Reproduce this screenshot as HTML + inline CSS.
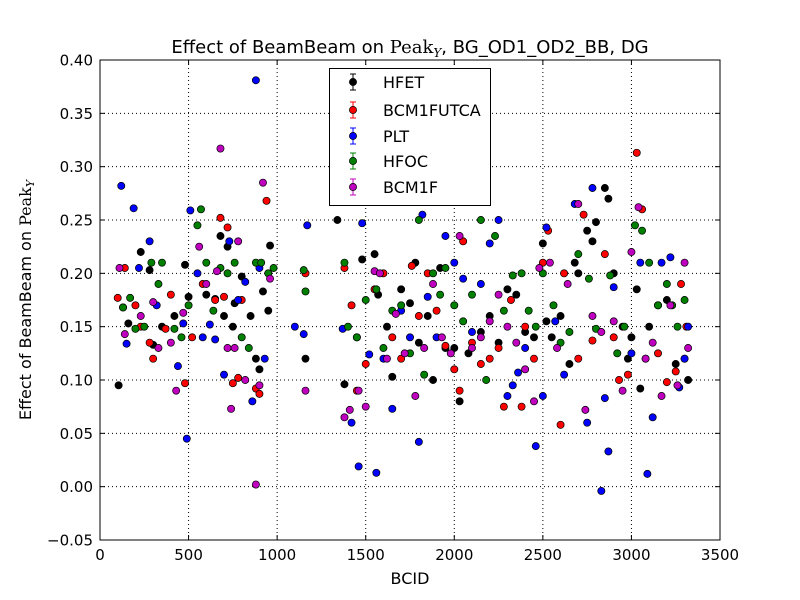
<!DOCTYPE html>
<html><head><meta charset="utf-8"><style>
body{margin:0;background:#fff;}
svg{display:block;font-family:"DejaVu Sans","Liberation Sans",sans-serif;}
</style></head><body>
<svg id="chart" width="800" height="600" xmlns="http://www.w3.org/2000/svg">
<rect width="800" height="600" fill="#fff"/>
<g id="grid"></g>
<g id="axes"></g>
<g id="marks"></g>
<rect x="100" y="60" width="620" height="480" fill="none" stroke="#000" stroke-width="1"/>
<text x="410" y="53" text-anchor="middle" font-size="18">Effect of BeamBeam on <tspan font-family="'DejaVu Serif','Liberation Serif',serif">Peak<tspan font-size="12" dy="4" font-style="italic">Y</tspan></tspan><tspan dy="-4">, BG_OD1_OD2_BB, DG</tspan></text>
<text x="410" y="584" text-anchor="middle" font-size="16">BCID</text>
<text transform="translate(31,300) rotate(-90)" text-anchor="middle" font-size="16">Effect of BeamBeam on <tspan font-family="'DejaVu Serif','Liberation Serif',serif">Peak<tspan font-size="11" dy="3" font-style="italic">Y</tspan></tspan></text>
<g id="legend">
<rect x="329.5" y="68.5" width="161" height="137" fill="#fff" stroke="#000"/>
</g>
</svg>
<script>
const xTicks=[0,500,1000,1500,2000,2500,3000,3500];
const yTicks=[-0.05,0,0.05,0.1,0.15,0.2,0.25,0.3,0.35,0.4];
const seriesNames=["HFET","BCM1FUTCA","PLT","HFOC","BCM1F"];
const seriesColors=["#000000","#ff0000","#0000ff","#008000","#bf00bf"];
const hfet=[[105,0.095],[130,0.168],[160,0.153],[230,0.22],[280,0.203],[300,0.133],[350,0.15],[420,0.16],[480,0.208],[500,0.178],[600,0.18],[650,0.176],[680,0.235],[700,0.16],[720,0.225],[750,0.15],[760,0.172],[800,0.197],[850,0.16],[880,0.12],[900,0.11],[920,0.183],[950,0.165],[960,0.226],[1160,0.12],[1340,0.25],[1380,0.096],[1450,0.14],[1480,0.213],[1550,0.218],[1570,0.18],[1620,0.15],[1650,0.103],[1700,0.185],[1750,0.172],[1780,0.21],[1800,0.135],[1850,0.16],[1880,0.1],[1920,0.205],[1950,0.13],[2000,0.13],[2030,0.08],[2080,0.125],[2150,0.145],[2200,0.16],[2250,0.135],[2300,0.185],[2350,0.18],[2400,0.145],[2450,0.14],[2500,0.228],[2520,0.155],[2550,0.14],[2600,0.16],[2650,0.115],[2680,0.21],[2700,0.2],[2750,0.24],[2780,0.23],[2800,0.248],[2850,0.28],[2870,0.27],[2900,0.2],[2950,0.15],[2980,0.12],[3000,0.14],[3030,0.185],[3050,0.092],[3100,0.15],[3150,0.17],[3200,0.175],[3250,0.115],[3300,0.12],[3320,0.1]];
const bcm1futca=[[100,0.177],[140,0.205],[200,0.17],[230,0.15],[280,0.135],[300,0.12],[370,0.148],[400,0.18],[480,0.097],[520,0.14],[580,0.19],[650,0.175],[680,0.252],[700,0.178],[720,0.243],[750,0.097],[780,0.102],[800,0.175],[880,0.092],[900,0.087],[940,0.268],[1160,0.2],[1380,0.205],[1420,0.17],[1450,0.09],[1500,0.115],[1550,0.185],[1600,0.2],[1650,0.14],[1700,0.12],[1760,0.207],[1800,0.16],[1850,0.2],[1900,0.165],[1950,0.132],[2000,0.11],[2030,0.09],[2050,0.23],[2100,0.135],[2150,0.115],[2200,0.12],[2250,0.13],[2280,0.075],[2320,0.175],[2380,0.075],[2400,0.15],[2450,0.12],[2500,0.21],[2530,0.24],[2600,0.058],[2620,0.2],[2700,0.12],[2730,0.255],[2780,0.137],[2850,0.218],[2900,0.14],[2930,0.1],[2980,0.105],[3030,0.313],[3060,0.26],[3080,0.12],[3150,0.125],[3200,0.098],[3250,0.108],[3280,0.19],[3310,0.15]];
const plt=[[120,0.282],[150,0.134],[190,0.261],[220,0.205],[280,0.23],[320,0.17],[440,0.113],[470,0.153],[490,0.045],[510,0.259],[550,0.2],[580,0.14],[620,0.152],[650,0.138],[700,0.105],[730,0.23],[780,0.175],[820,0.192],[860,0.08],[880,0.381],[900,0.205],[930,0.12],[1100,0.15],[1150,0.143],[1170,0.245],[1370,0.148],[1420,0.06],[1460,0.019],[1480,0.247],[1520,0.124],[1560,0.013],[1600,0.12],[1650,0.073],[1700,0.165],[1750,0.14],[1800,0.042],[1820,0.255],[1850,0.178],[1900,0.14],[1950,0.235],[2000,0.21],[2050,0.195],[2100,0.145],[2150,0.19],[2200,0.228],[2250,0.25],[2300,0.085],[2330,0.095],[2360,0.107],[2400,0.13],[2460,0.038],[2500,0.085],[2520,0.243],[2570,0.155],[2620,0.105],[2680,0.265],[2750,0.06],[2780,0.28],[2830,-0.004],[2850,0.083],[2870,0.033],[2900,0.187],[3000,0.125],[3050,0.21],[3090,0.012],[3120,0.065],[3170,0.21],[3220,0.215],[3270,0.093],[3300,0.12],[3320,0.15]];
const hfoc=[[130,0.168],[170,0.177],[200,0.148],[250,0.15],[290,0.21],[330,0.19],[350,0.21],[420,0.148],[460,0.14],[500,0.17],[550,0.245],[570,0.26],[600,0.21],[640,0.165],[680,0.205],[720,0.2],[760,0.21],[800,0.14],[840,0.13],[880,0.21],[910,0.21],[950,0.2],[980,0.205],[1150,0.203],[1160,0.183],[1380,0.21],[1400,0.15],[1450,0.14],[1500,0.175],[1560,0.185],[1600,0.13],[1650,0.165],[1700,0.17],[1750,0.125],[1800,0.25],[1830,0.105],[1880,0.2],[1920,0.18],[1950,0.205],[2000,0.17],[2050,0.155],[2100,0.18],[2150,0.25],[2180,0.1],[2230,0.235],[2280,0.165],[2330,0.198],[2380,0.2],[2420,0.165],[2460,0.15],[2500,0.2],[2560,0.17],[2600,0.135],[2650,0.145],[2700,0.218],[2760,0.195],[2800,0.148],[2880,0.198],[2920,0.125],[2960,0.15],[3020,0.245],[3060,0.24],[3100,0.21],[3150,0.17],[3200,0.19],[3230,0.17],[3260,0.15],[3300,0.175]];
const bcm1f=[[110,0.205],[140,0.143],[230,0.16],[300,0.173],[330,0.13],[400,0.135],[430,0.09],[470,0.163],[560,0.225],[600,0.19],[660,0.202],[680,0.317],[720,0.13],[740,0.073],[760,0.13],[780,0.23],[820,0.1],[880,0.002],[900,0.095],[920,0.285],[960,0.195],[1160,0.09],[1380,0.065],[1410,0.072],[1460,0.09],[1500,0.075],[1550,0.202],[1580,0.2],[1620,0.12],[1670,0.162],[1720,0.125],[1780,0.085],[1830,0.13],[1880,0.19],[1930,0.14],[1980,0.125],[2030,0.235],[2100,0.13],[2150,0.14],[2200,0.155],[2250,0.18],[2300,0.15],[2350,0.135],[2400,0.11],[2450,0.08],[2480,0.205],[2540,0.21],[2580,0.13],[2640,0.19],[2700,0.265],[2740,0.072],[2780,0.16],[2830,0.145],[2900,0.155],[2950,0.09],[3000,0.22],[3040,0.262],[3080,0.12],[3120,0.135],[3170,0.085],[3220,0.17],[3260,0.095],[3300,0.21],[3320,0.13]];
const seriesData=[hfet,bcm1futca,plt,hfoc,bcm1f];

const NS="http://www.w3.org/2000/svg";
const X0=100,X1=720,Y0=540,Y1=60,XMIN=0,XMAX=3500,YMIN=-0.05,YMAX=0.4;
function xs(v){return X0+(v-XMIN)/(XMAX-XMIN)*(X1-X0);}
function ys(v){return Y0-(v-YMIN)/(YMAX-YMIN)*(Y0-Y1);}
function mk(tag,attrs,parent){const e=document.createElementNS(NS,tag);for(const k in attrs)e.setAttribute(k,attrs[k]);parent.appendChild(e);return e;}
const grid=document.getElementById('grid'),axes=document.getElementById('axes'),marks=document.getElementById('marks'),legend=document.getElementById('legend');
xTicks.forEach(t=>{const x=xs(t);
 const g=mk('line',{x1:x,x2:x,y1:Y1,y2:Y0,stroke:'#000','stroke-dasharray':'1,3','stroke-width':1},grid);
 
 
 mk('line',{x1:x,x2:x,y1:Y0,y2:Y0-5,stroke:'#000'},axes);
 mk('line',{x1:x,x2:x,y1:Y1,y2:Y1+5,stroke:'#000'},axes);
 const l=mk('text',{x:x,y:Y0+20,'text-anchor':'middle','font-size':15},axes);l.textContent=String(t);
 
 
});
yTicks.forEach(t=>{const y=ys(t);
 const g=mk('line',{x1:X0,x2:X1,y1:y,y2:y,stroke:'#000','stroke-dasharray':'1,3','stroke-width':1},grid);
 
 
 mk('line',{x1:X0,x2:X0+5,y1:y,y2:y,stroke:'#000'},axes);
 mk('line',{x1:X1,x2:X1-5,y1:y,y2:y,stroke:'#000'},axes);
 const l=mk('text',{x:X0-7,y:y+5.5,'text-anchor':'end','font-size':15},axes);l.textContent=(t<0?'\u2212':'')+Math.abs(t).toFixed(2);
 
 
});
seriesData.forEach((arr,i)=>{
 arr.forEach(p=>{const c=mk('circle',{cx:xs(p[0]),cy:ys(p[1]),r:3.6,fill:seriesColors[i],stroke:'#000','stroke-width':0.7},marks);
  
  
 });
 const ly=[82,110,136,161,187][i];
 const g=mk('g',{},legend);
 
 
 mk('line',{x1:353,x2:353,y1:ly-8,y2:ly+8,stroke:seriesColors[i]},g);
 mk('line',{x1:350,x2:356,y1:ly-8,y2:ly-8,stroke:seriesColors[i]},g);
 mk('line',{x1:350,x2:356,y1:ly+8,y2:ly+8,stroke:seriesColors[i]},g);
 mk('circle',{cx:353,cy:ly,r:3.6,fill:seriesColors[i],stroke:'#000','stroke-width':0.7},g);
 const t=mk('text',{x:383,y:ly+6,'font-size':16},g);t.textContent=seriesNames[i];
});
</script>
</body></html>
